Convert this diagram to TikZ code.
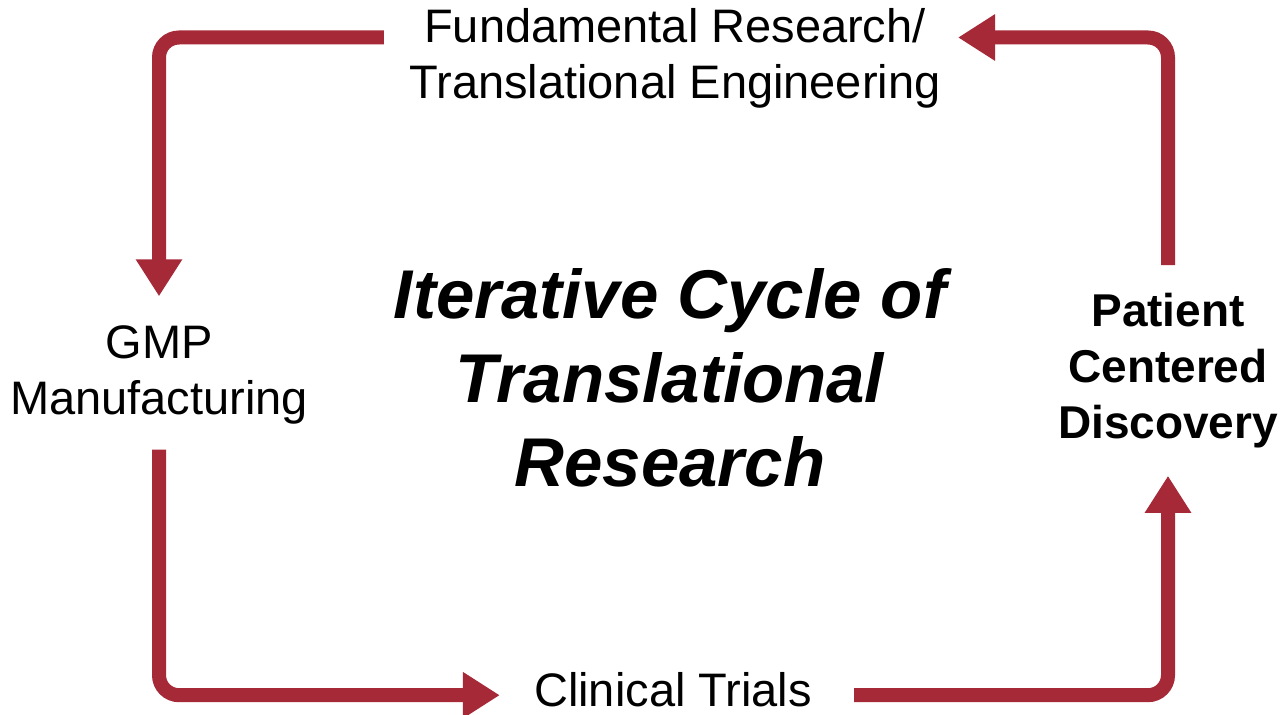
\documentclass[tikz,border=0pt]{standalone}
\usepackage{fontspec}
\setmainfont{Liberation Sans}
\usetikzlibrary{arrows.meta}
\definecolor{cyclered}{RGB}{166,41,56}
\tikzset{line cap=round,line join=round}
\tikzset{
    stage/.style={align=center,inner sep=0pt,font=\fontsize{23.5}{28}\selectfont},
    cyclearrow/.style={draw=cyclered,line width=7pt,line cap=butt,rounded corners=10pt,
        -{Triangle[width=22pt,length=18.5pt]}},
}

\begin{document}
\begin{tikzpicture}[x=0.5pt,y=-0.5pt]
    \useasboundingbox (0,0) rectangle (1281,715);
    \node[name=fund,stage] at (675,58) {Fundamental Research/\\Translational Engineering};
    \node[name=gmp,stage] at (159,375) {GMP\\Manufacturing};
    \node[name=clin,stage,anchor=base] at (673,707) {Clinical Trials};
    \node[name=pat,stage,font=\fontsize{23}{28}\selectfont\bfseries] at (1168,371) {Patient\\Centered\\Discovery};
    \node[name=title,align=center,inner sep=0pt,font=\fontsize{34.5}{42}\selectfont\bfseries\itshape] at (670,378)
        {Iterative Cycle of\\Translational\\Research};
    % the four legs of the cycle
    \draw[cyclearrow] ([shift={(-12.5pt,10.25pt)}]fund.west) -| ([yshift=14.5pt]gmp.north);
    \draw[cyclearrow] ([yshift=-12.5pt]gmp.south) |- ([shift={(-17pt,-2.5pt)}]clin.west);
    \draw[cyclearrow] ([shift={(21pt,-2.5pt)}]clin.east) -| ([yshift=-13.5pt]pat.south);
    \draw[cyclearrow] ([yshift=14pt]pat.north) |- ([shift={(8.5pt,10.25pt)}]fund.east);
\end{tikzpicture}
\end{document}
